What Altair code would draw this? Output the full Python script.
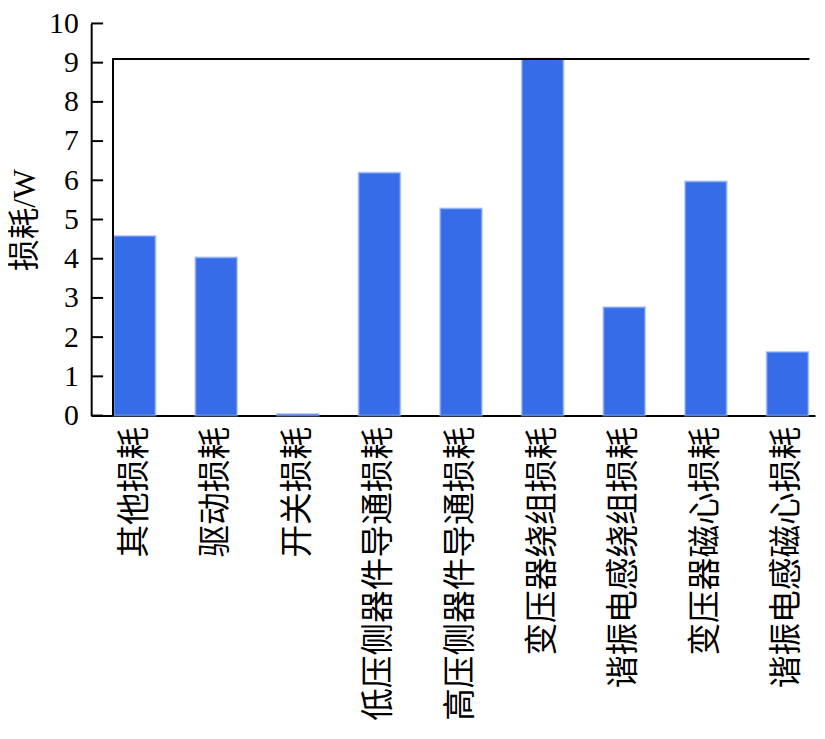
import altair as alt
import pandas as pd

categories = ["其他损耗", "驱动损耗", "开关损耗", "低压侧器件导通损耗", "高压侧器件导通损耗",
              "变压器绕组损耗", "谐振电感绕组损耗", "变压器磁心损耗", "谐振电感磁心损耗"]
losses = [4.58, 4.03, 0.04, 6.19, 5.28, 9.1, 2.76, 5.97, 1.62]
y_ticks = list(range(0, 11))
frame_top = 9.1

df = pd.DataFrame({"cat": categories, "loss": losses})
ticks_df = pd.DataFrame({"t": y_ticks})

serif = "Liberation Serif, 'Noto Sans CJK SC'"
W, H = 731, 396

x_enc = alt.X("cat:N", sort=categories, title=None,
              scale=alt.Scale(paddingInner=0.49, paddingOuter=0.18, align=0.77),
              axis=alt.Axis(labelAngle=-90, labelFont="Noto Sans CJK SC", labelFontSize=33,
                            labelColor="black", labelPadding=11, ticks=False,
                            labelOverlap=False,
                            domainColor="black", domainWidth=2, labelLimit=400))
y_scale = alt.Scale(domain=[0, 10], nice=False)
y_axis = alt.Axis(values=y_ticks, tickSize=0, labelFont=serif, labelFontSize=30,
                  labelColor="black", labelPadding=13, grid=False,
                  labelOverlap=False, labelFlush=False, labelSeparation=0,
                  domainColor="black", domainWidth=2,
                  titleFont=serif, titleFontSize=32, titleFontWeight="normal",
                  titleColor="black", titlePadding=7)

bars = alt.Chart(df).mark_bar(color="#376ce9", stroke="#8fb0f2", strokeWidth=2,
                              strokeOpacity=0.6).encode(
    x=x_enc,
    y=alt.Y("loss:Q", scale=y_scale, title="损耗/W", axis=y_axis),
)

tick_marks = alt.Chart(ticks_df).mark_rule(color="black", strokeWidth=2).encode(
    y=alt.Y("t:Q", scale=y_scale, title="损耗/W", axis=y_axis),
    x=alt.value(0), x2=alt.value(12),
)

frame_top_line = alt.Chart(df).mark_rule(color="black", strokeWidth=1.3).encode(
    y=alt.Y(datum=frame_top, scale=y_scale, title="损耗/W", axis=y_axis),
    x=alt.value(22), x2=alt.value(725),
)
frame_left_line = alt.Chart(df).mark_rule(color="black", strokeWidth=1.3).encode(
    x=alt.value(22),
    y=alt.Y(datum=frame_top, scale=y_scale, title="损耗/W", axis=y_axis),
    y2=alt.datum(0),
)

chart = alt.layer(bars, frame_top_line, frame_left_line, tick_marks).properties(
    width=W, height=H,
    background="white",
    autosize=alt.AutoSizeParams(type="none"),
    padding={"left": 84, "top": 12, "right": 2, "bottom": 320},
).configure_view(stroke=None)

chart.save("out.html", embed_options={"renderer": "svg", "actions": False})
